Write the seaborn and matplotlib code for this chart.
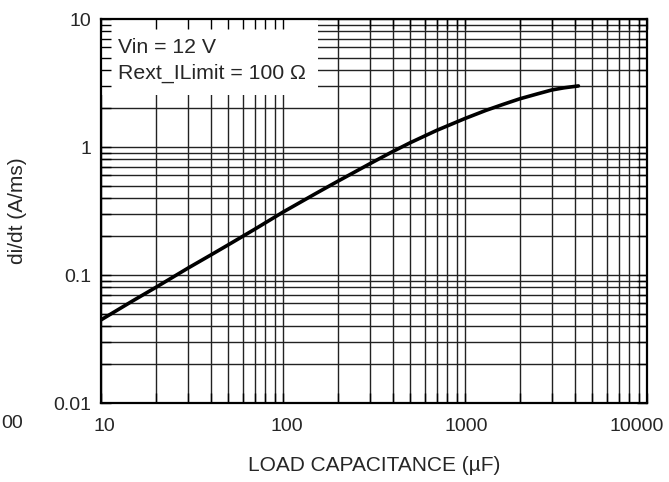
import numpy as np
import pandas as pd
import matplotlib
matplotlib.use('Agg')
import matplotlib.pyplot as plt
import matplotlib.transforms as mtrans
import seaborn as sns
from matplotlib.patches import Rectangle
from matplotlib.ticker import LogLocator, NullFormatter, FixedLocator, FixedFormatter

# load capacitance (uF) vs di/dt (A/ms)
cap_uf = [10, 15, 20, 30, 40, 50, 70, 100, 150, 200, 300, 400, 500, 700,
          1000, 1300, 1600, 2000, 2500, 3000, 3500, 4200]
didt = [0.0446, 0.063, 0.080, 0.113, 0.143, 0.172, 0.228, 0.31, 0.43, 0.54, 0.74, 0.92, 1.08, 1.35,
        1.67, 1.93, 2.14, 2.38, 2.6, 2.79, 2.9, 3.0]

x_ticks = [10, 100, 1000, 10000]
x_labels = ['10', '100', '1000', '10000']
x_label_shift_px = [3.5, 3.5, 1.5, -10.5]
y_ticks = [0.01, 0.1, 1, 10]
y_labels = ['0.01', '0.1', '1', '10']

note_lines = ['Vin = 12 V', 'Rext_ILimit = 100 \u03a9']

sns.set_style('ticks')
plt.rcParams['font.family'] = ['Liberation Sans', 'DejaVu Sans']

df = pd.DataFrame({'cap': cap_uf, 'didt': didt})

fig = plt.figure(figsize=(6.69, 4.82), dpi=100)
rect = [101 / 669, 1 - 403 / 482, 546 / 669, 384 / 482]
ax = fig.add_axes(rect)
ax.set_xscale('log')
ax.set_yscale('log')
ax.set_xlim(10, 10000)
ax.set_ylim(0.01, 10)

# grid, major and minor, all solid dark lines
ax.xaxis.set_minor_locator(LogLocator(base=10, subs=np.arange(2, 10)))
ax.yaxis.set_minor_locator(LogLocator(base=10, subs=np.arange(2, 10)))
ax.grid(True, which='both', color='#222222', linewidth=1.0)
ax.tick_params(which='both', length=0)
ax.set_axisbelow(True)

# white box behind the note text
ax.add_patch(Rectangle((0, 0.802), 0.397, 0.198, transform=ax.transAxes,
                       facecolor='white', edgecolor='none', zorder=1.5))

sns.lineplot(data=df, x='cap', y='didt', ax=ax, color='black', linewidth=2.6, zorder=3)

ax.xaxis.set_major_locator(FixedLocator(x_ticks))
ax.xaxis.set_major_formatter(FixedFormatter(x_labels))
ax.xaxis.set_minor_formatter(NullFormatter())
ax.yaxis.set_major_locator(FixedLocator(y_ticks))
ax.yaxis.set_major_formatter(FixedFormatter(y_labels))
ax.yaxis.set_minor_formatter(NullFormatter())
ax.tick_params(axis='x', which='major', labelsize=14, pad=11)
ax.tick_params(axis='y', which='major', labelsize=14, pad=7)
ax.set_xlabel('LOAD CAPACITANCE (\u00b5F)', fontsize=15, labelpad=15)
ax.set_ylabel('di/dt (A/ms)', fontsize=15, labelpad=19)
for s in ax.spines.values():
    s.set_visible(False)

# small horizontal nudges of the x tick labels, as in the reference
for lbl, dx in zip(ax.get_xticklabels(), x_label_shift_px):
    lbl.set_transform(lbl.get_transform() +
                      mtrans.ScaledTranslation(dx / 100, 0, fig.dpi_scale_trans))

ax.text(0.031, 0.911, note_lines[0], transform=ax.transAxes, fontsize=15.3,
        va='baseline', ha='left', zorder=4)
ax.text(0.031, 0.844, note_lines[1], transform=ax.transAxes, fontsize=15.3,
        va='baseline', ha='left', zorder=4)

# overlay axes: frame and inward ticks drawn on top of the white box
ov = fig.add_axes(rect, sharex=ax, sharey=ax)
ov.patch.set_visible(False)
ov.grid(False)
ov.tick_params(which='both', direction='in', top=True, right=True,
               labelbottom=False, labelleft=False, color='black', width=1.0)
ov.tick_params(which='major', length=7)
ov.tick_params(which='minor', length=7)
for s in ov.spines.values():
    s.set_visible(True)
    s.set_linewidth(1.6)
    s.set_color('black')

# label remnant at the far left of the reference
fig.text(1 / 669, 1 - 424 / 482, '00', fontsize=14, ha='left', va='center')

fig.savefig('out.png', dpi=100)
